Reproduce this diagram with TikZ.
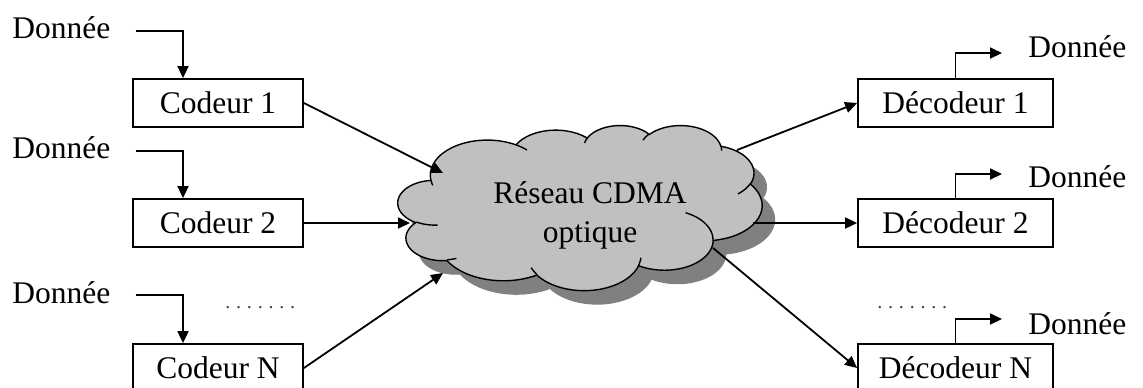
\documentclass[tikz,border=0pt]{standalone}
\usepackage{fontspec}
\setmainfont{Liberation Serif}
\usetikzlibrary{arrows.meta,calc}

\definecolor{cloudgray}{RGB}{192,192,192}
\definecolor{shadowgray}{RGB}{128,128,128}

% --- cloud outline built from elliptical arcs (angles are visual angles) ---
\newcommand\cldmove[2]{%
  \xdef\cpx{#1}\xdef\cpy{#2}%
  \pgfpathmoveto{\pgfpointxy{#1}{#2}}}
\newcommand\cldarc[4]{%
  \pgfmathsetmacro\cts{atan2((#1)*sin(#3),(#2)*cos(#3))}%
  \pgfmathsetmacro\cte{atan2((#1)*sin((#3)+(#4)),(#2)*cos((#3)+(#4)))}%
  \pgfmathsetmacro\cte{ifthenelse(\cte<\cts,\cte+360,\cte)}%
  \pgfmathsetmacro\ccx{\cpx-(#1)*cos(\cts)}%
  \pgfmathsetmacro\ccy{\cpy-(#2)*sin(\cts)}%
  \foreach \k in {1,...,30}{%
    \pgfmathsetmacro\ct{\cts+(\cte-\cts)*\k/30}%
    \pgfmathsetmacro\qx{\ccx+(#1)*cos(\ct)}%
    \pgfmathsetmacro\qy{\ccy+(#2)*sin(\ct)}%
    \pgfpathlineto{\pgfpointxy{\qx}{\qy}}}%
  \pgfmathsetmacro\cpx{\ccx+(#1)*cos(\cte)}\xdef\cpx{\cpx}%
  \pgfmathsetmacro\cpy{\ccy+(#2)*sin(\cte)}\xdef\cpy{\cpy}}

\newcommand\cloudpath{%
  \cldmove{390}{1437}%
  \cldarc{675.3}{919.0}{-190.4875}{123.7805}%
  \cldarc{533.3}{726.7}{-144.1024}{89.9452}%
  \cldarc{436.5}{594.5}{-145.8079}{99.7230}%
  \cldarc{485.7}{659.5}{-130.9861}{117.2417}%
  \cldarc{533.3}{727.3}{-78.7089}{109.0269}%
  \cldarc{677.5}{922.0}{-46.2673}{130.2690}%
  \cldarc{578.5}{786.7}{0.6250}{114.0333}%
  \cldarc{675.2}{921.5}{22.4516}{115.1726}%
  \cldarc{772.0}{1054.3}{66.2426}{75.7110}%
  \cldarc{436.0}{591.8}{-274.9421}{146.7356}%
  \cldarc{434.5}{594.5}{-246.8285}{152.5189}%
  \pgfpathclose}

\newcommand\cloudinner{%
  \cldmove{469.3}{2617.7}\cldarc{434.5}{594.5}{86.742}{26.4295}%
  \cldmove{692.8}{3489.9}\cldarc{436.0}{591.8}{73.6105}{11.4475}%
  \cldmove{1647.8}{3909.0}\cldarc{675.2}{921.5}{137.6242}{14.0811}%
  \cldmove{2882.7}{3475.1}\cldarc{675.2}{921.5}{6.4533}{15.9984}%
  \cldmove{3412.9}{2295.4}\cldarc{578.5}{786.7}{-70.2924}{70.9174}%
  \cldmove{4179.8}{1535.4}\cldarc{533.3}{727.3}{30.3180}{27.7515}%
  \cldmove{3832.4}{542.6}\cldarc{485.7}{659.5}{-13.7443}{14.8589}%
  \cldmove{2907.8}{395.2}\cldarc{485.7}{659.5}{-149.1815}{18.1954}%
  \cldmove{2214.1}{472.0}\cldarc{436.5}{594.5}{-163.4943}{17.6864}%
  \cldmove{1400.0}{519.2}\cldarc{675.3}{919.0}{-66.7070}{12.3194}%
  \cldmove{412.7}{1578.9}\cldarc{675.3}{919.0}{157.6544}{11.8582}}

\begin{document}
\begin{tikzpicture}[x=0.5pt,y=-0.5pt,
  font=\fontsize{15.75pt}{19.5pt}\selectfont,
  box/.style={draw, line width=0.9pt, minimum width=85pt, minimum height=24pt, inner sep=0pt},
  dbox/.style={box, minimum width=97.5pt},
  lbl/.style={inner sep=0pt, anchor=base west},
  dotrow/.style={lbl, text=black!75, font=\fontsize{10pt}{12pt}\selectfont\addfontfeature{LetterSpace=29}},
  arr/.style={line width=0.9pt, -{Triangle[length=6pt,width=5.5pt]}}]
\useasboundingbox (0,0) rectangle (1143,387);

% network cloud: shadow, body, inner strokes
\begin{scope}[shift={(411,139)}, x=0.04213pt, y=-0.019097pt]
  \pgfsetfillcolor{shadowgray}\cloudpath\pgfusepath{fill}
\end{scope}
\begin{scope}[shift={(398,125)}, x=0.04213pt, y=-0.019097pt]
  \pgfsetfillcolor{cloudgray}\pgfsetstrokecolor{black}\pgfsetlinewidth{0.7pt}
  \cloudpath\pgfusepath{fill,stroke}
  \cloudinner\pgfusepath{stroke}
\end{scope}
\node[minimum width=182pt, minimum height=82.5pt, inner sep=0pt] (cloud) at (580,207.5) {};
\node[align=center, inner sep=0pt] (net) at (590,215) {Réseau CDMA\\optique};

% coders
\node[box] (c1) at (218,103) {Codeur 1};
\node[box] (c2) at (218,223) {Codeur 2};
\node[box] (cN) at (218,368) {Codeur N};
\node[lbl] (in1) at (12,38) {Donnée};
\node[lbl] (in2) at (12,158) {Donnée};
\node[lbl] (in3) at (12,303) {Donnée};
\node[dotrow] (dl) at (225,308) {.......};

% decoders
\node[dbox] (d1) at (955.5,103) {Décodeur 1};
\node[dbox] (d2) at (955.5,223) {Décodeur 2};
\node[dbox] (dN) at (955.5,368) {Décodeur N};
\node[lbl] (out1) at (1028,57) {Donnée};
\node[lbl] (out2) at (1028,187) {Donnée};
\node[lbl] (out3) at (1028,334) {Donnée};
\node[dotrow] (dr) at (877,308) {.......};

% data in
\draw[arr] ($(in1.base east)+(25,-7)$) -| ([xshift=-17.5pt]c1.north);
\draw[arr] ($(in2.base east)+(25,-7)$) -| ([xshift=-17.5pt]c2.north);
\draw[arr] ($(in3.base east)+(25,-8)$) -| ([xshift=-17.5pt]cN.north);

% coders to network
\draw[arr] (c1.east) -- ($(cloud.center)+(-137,-34.5)$);
\draw[arr] (c2.east) -- ($(cloud.center)+(-170,15.5)$);
\draw[arr] (cN.east) -- ($(cloud.center)+(-137,65.5)$);

% network to decoders
\draw[arr] ($(cloud.center)+(157,-57.5)$) -- (d1.west);
\draw[arr] ($(cloud.center)+(173,15.5)$) -- (d2.west);
\draw[arr] ($(cloud.center)+(133,40.5)$) -- (dN.west);

% data out
\draw[arr] (d1.north) |- ($(out1.base west)+(-26,-4)$);
\draw[arr] (d2.north) |- ($(out2.base west)+(-26,-13)$);
\draw[arr] (dN.north) |- ($(out3.base west)+(-26,-15)$);
\end{tikzpicture}
\end{document}
